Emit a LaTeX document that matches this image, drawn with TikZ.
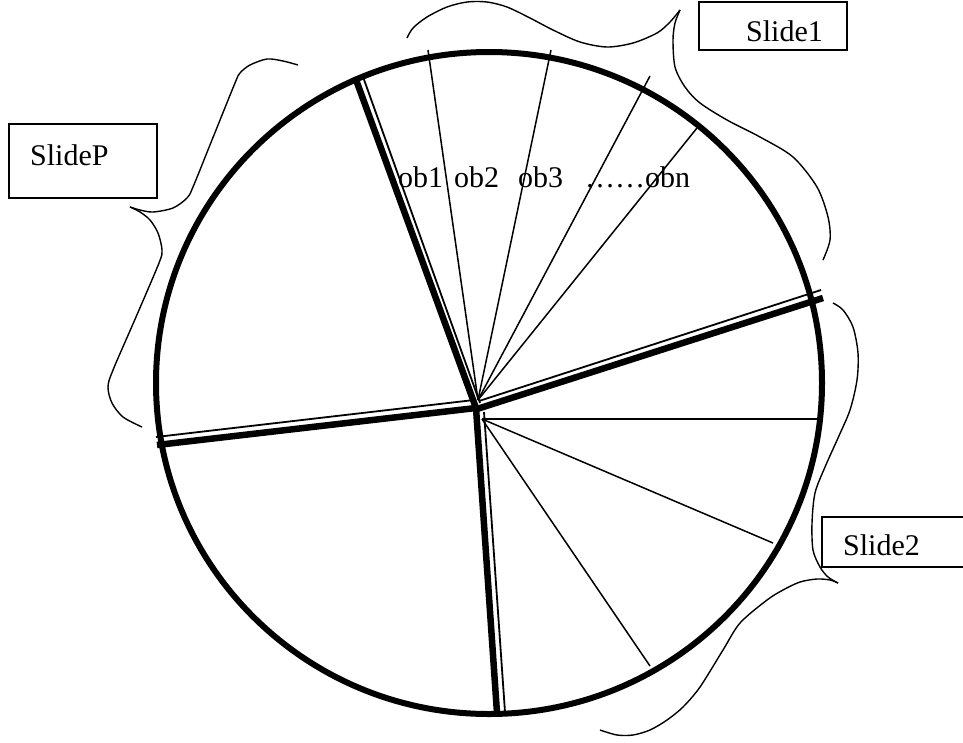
\documentclass[tikz,border=0pt]{standalone}
\usepackage{fontspec}
\setmainfont{Liberation Serif}

\tikzset{
  rim/.style={line width=6pt},
  divthick/.style={line width=6.5pt},
  divthin/.style={line width=1.8pt},
  objline/.style={line width=1.5pt},
  brace/.style={line width=1.4pt},
  slidebox/.style={draw, line width=1.3pt, minimum width=148pt, minimum height=48pt, inner sep=0pt},
  slidetext/.style={anchor=base west, inner sep=0pt, font=\fontsize{30}{36}\selectfont},
}

\begin{document}
\begin{tikzpicture}[x=1pt, y=-1pt]
  \useasboundingbox (0,0) rectangle (963,742);

  % Wheel
  \draw[rim] (489,383) ellipse (333pt and 331pt);

  % Dividers between slides (thick-thin)
  \draw[divthick] (476,408) -- (355,77);
  \draw[divthin] (480,403) -- (362,74);
  \draw[divthick] (476,408) -- (157,445);
  \draw[divthin] (474,400) -- (156,437);
  \draw[divthick] (477,409) -- (823,298);
  \draw[divthin] (479,401) -- (821,290);
  \draw[divthick] (476,408) -- (497,713);
  \draw[divthin] (484,412) -- (505,712);

  % Objects of Slide1
  \foreach \ex/\ey in {428/50, 551/50, 650/76, 697/128}
    \draw[objline] (478,400) -- (\ex,\ey);

  % Objects of Slide2
  \foreach \ex/\ey in {817/419, 773/543, 650/666}
    \draw[objline] (482,419) -- (\ex,\ey);

  % Object labels
  \node[slidetext] (ob1) at (398,187) {ob1};
  \node[slidetext] (ob2) at (454,187) {ob2};
  \node[slidetext] (ob3) at (518,187) {ob3};
  \node[slidetext] (obn) at (585,187) {……obn};

  % Brace of Slide1
  \draw[brace] plot[smooth] coordinates {(407,38) (413,28) (427,17) (447,7) (467,2) (487,2) (507,7) (530,18)
    (553,30) (580,42) (607,47) (633,43) (657,33) (670,22) (680,10)};
  \draw[brace] plot[smooth] coordinates {(680,10) (675,23) (673,40) (675,67) (685,87) (700,103) (727,120)
    (760,137) (793,157) (817,187) (828,217) (830,240) (823,260)};

  % Brace of SlideP
  \draw[brace] plot[smooth] coordinates {(298,65) (283,61) (267,59) (250,65) (240,73) (235,83) (214,135)
    (193,187) (187,198) (173,208) (153,212) (140,210) (130,207)};
  \draw[brace] plot[smooth] coordinates {(130,207) (140,212) (150,220) (158,233) (162,250) (159,263) (136,317)
    (113,370) (108,387) (112,403) (123,417) (142,427)};

  % Brace of Slide2
  \draw[brace] plot[smooth] coordinates {(833,303) (843,310) (853,327) (858,353) (857,380) (850,410) (838,438)
    (825,467) (815,493) (812,523) (813,550) (820,567) (828,577) (838,583)};
  \draw[brace] plot[smooth] coordinates {(838,583) (830,580) (817,579) (800,582) (783,590) (767,600) (740,623)
    (723,650) (700,687) (683,707) (667,720) (650,730) (633,735) (617,735) (600,730)};

  % Slide boxes
  \node[slidebox] (box1) at (773,26) {};
  \node[slidetext] (slide1) at (746,41) {Slide1};
  \node[slidebox, minimum height=74pt] (boxP) at (83,161) {};
  \node[slidetext] (slideP) at (30,165) {SlideP};
  \node[slidebox, minimum height=50pt] (box2) at (896,542) {};
  \node[slidetext] (slide2) at (843,555) {Slide2};
\end{tikzpicture}
\end{document}
